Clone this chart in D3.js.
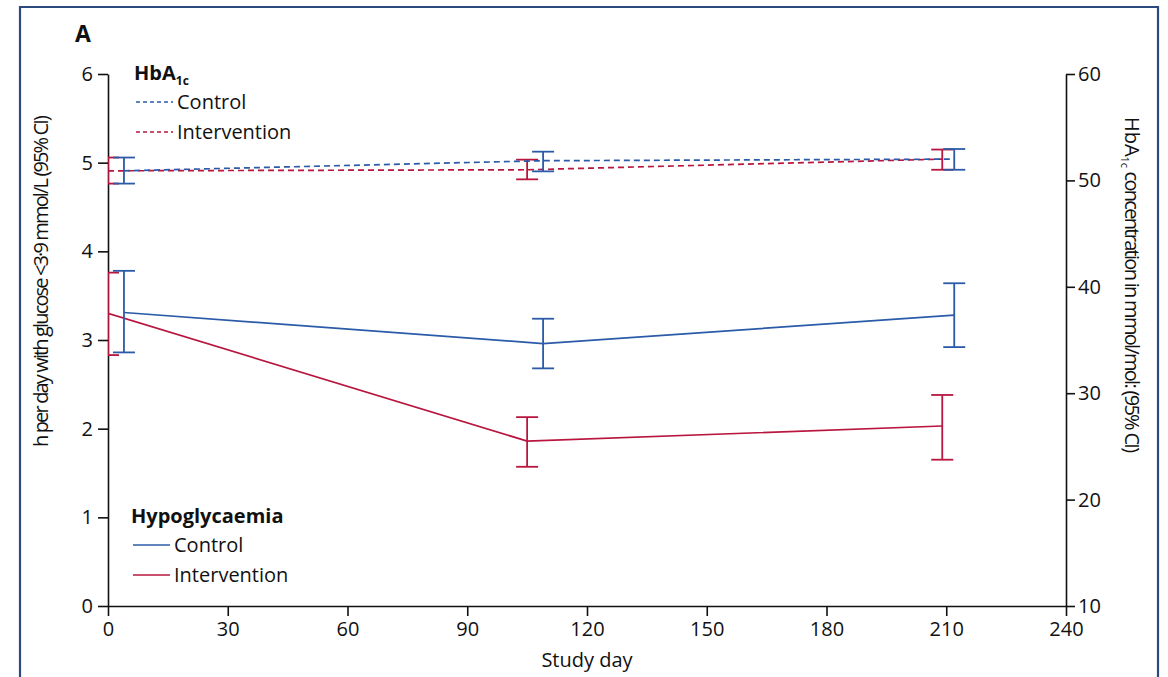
<!DOCTYPE html>
<html>
<head>
<meta charset="utf-8">
<script src="https://cdn.jsdelivr.net/npm/d3@7"></script>
<style>
  body { margin: 0; background: #fff; }
  svg { display: block; font-family: "Open Sans", "Noto Sans", sans-serif; }
  .axis path, .axis line { stroke: #111; stroke-width: 1.6; }
  .axis text { font-size: 20px; fill: #111; font-family: "Open Sans", sans-serif; }
  .lbl { font-size: 20px; fill: #111; }
</style>
</head>
<body>
<svg id="chart"></svg>
<script>
var W = 1168, H = 677;

// study days of each visit
var DAYS_CTRL = [4, 109, 212];
var DAYS_INT = [0, 105, 209];

// hypoglycaemia, h per day < 3.9 mmol/L
var HYPO_CTRL = [3.31, 2.96, 3.28];
var HYPO_CTRL_LO = [2.86, 2.68, 2.92];
var HYPO_CTRL_HI = [3.78, 3.24, 3.64];
var HYPO_INT = [3.30, 1.86, 2.03];
var HYPO_INT_LO = [2.83, 1.57, 1.65];
var HYPO_INT_HI = [3.76, 2.13, 2.38];

// HbA1c, mmol/mol
var HBA_CTRL = [50.9, 51.85, 52.0];
var HBA_CTRL_LO = [49.7, 50.85, 51.0];
var HBA_CTRL_HI = [52.15, 52.7, 52.95];
var HBA_INT = [50.9, 51.0, 52.0];
var HBA_INT_LO = [49.7, 50.1, 51.0];
var HBA_INT_HI = [52.15, 51.95, 52.9];

var X_TICKS = [0, 30, 60, 90, 120, 150, 180, 210, 240];
var LEFT_TICKS = [0, 1, 2, 3, 4, 5, 6];
var RIGHT_TICKS = [10, 20, 30, 40, 50, 60];

var BLUE = "#2b5ba8";
var RED = "#b8163f";

var M = {left: 108, right: 1066, top: 74, bottom: 606};

var svg = d3.select("#chart").attr("width", W).attr("height", H);

var x = d3.scaleLinear().domain([0, 240]).range([M.left, M.right]);
var yL = d3.scaleLinear().domain([0, 6]).range([M.bottom, M.top]);
var yR = d3.scaleLinear().domain([10, 60]).range([M.bottom, M.top]);

// frame
svg.append("path")
    .attr("d", "M20," + (H + 5) + "V7H1158V" + (H + 5))
    .attr("fill", "none").attr("stroke", "#2d4a7f").attr("stroke-width", 2.2);

svg.append("text").attr("x", 75).attr("y", 42)
    .attr("font-size", 23).attr("font-weight", "bold").attr("fill", "#111").text("A");

// axes
svg.append("g").attr("class", "axis")
    .attr("transform", "translate(0," + M.bottom + ")")
    .call(d3.axisBottom(x).tickValues(X_TICKS).tickSize(10).tickPadding(4).tickSizeOuter(0))
    .call(function (g) { g.selectAll("text").attr("dy", "0.78em"); });

svg.append("g").attr("class", "axis")
    .attr("transform", "translate(" + M.left + ",0)")
    .call(d3.axisLeft(yL).tickValues(LEFT_TICKS).tickFormat(d3.format("d"))
        .tickSize(10).tickPadding(5).tickSizeOuter(0));

svg.append("g").attr("class", "axis")
    .attr("transform", "translate(" + M.right + ",0)")
    .call(d3.axisRight(yR).tickValues(RIGHT_TICKS).tickSize(9).tickPadding(3).tickSizeOuter(0));

svg.append("text").attr("class", "lbl")
    .attr("x", x(120)).attr("y", 667).attr("text-anchor", "middle").text("Study day");

svg.append("text").attr("class", "lbl")
    .attr("transform", "translate(48,281) rotate(-90)")
    .attr("text-anchor", "middle").attr("font-size", 18.5)
    .attr("textLength", 332).attr("lengthAdjust", "spacing")
    .text("h per day with glucose <3\u00b79 mmol/L (95% CI)");

var rl = svg.append("text").attr("class", "lbl")
    .attr("transform", "translate(1125,285) rotate(90)")
    .attr("text-anchor", "middle").attr("font-size", 18.5);
rl.append("tspan").text("HbA");
rl.append("tspan").attr("font-size", 11).attr("dy", 4).text("1c");
rl.append("tspan").attr("dy", -4).attr("textLength", 285).attr("lengthAdjust", "spacing")
    .text(" concentration in mmol/mol: (95% CI)");

// plot area clip so caps at day 0 stop at the axis
svg.append("clipPath").attr("id", "clip")
    .append("rect").attr("x", M.left).attr("y", 0).attr("width", M.right - M.left).attr("height", H);
var plot = svg.append("g").attr("clip-path", "url(#clip)");

function series(days, mean, lo, hi, y, color, dash) {
    var pts = days.map(function (d, i) { return {d: d, m: mean[i], lo: lo[i], hi: hi[i]}; });
    var line = d3.line().x(function (p) { return x(p.d); }).y(function (p) { return y(p.m); });
    plot.append("path").datum(pts).attr("d", line)
        .attr("fill", "none").attr("stroke", color).attr("stroke-width", 1.7)
        .attr("stroke-dasharray", dash ? "6,4" : null);
    var g = plot.append("g").attr("stroke", color).attr("stroke-width", 1.8);
    pts.forEach(function (p) {
        var cx = x(p.d);
        g.append("line").attr("x1", cx).attr("x2", cx).attr("y1", y(p.lo)).attr("y2", y(p.hi));
        g.append("line").attr("x1", cx - 11).attr("x2", cx + 11).attr("y1", y(p.lo)).attr("y2", y(p.lo));
        g.append("line").attr("x1", cx - 11).attr("x2", cx + 11).attr("y1", y(p.hi)).attr("y2", y(p.hi));
    });
}

series(DAYS_INT, HYPO_INT, HYPO_INT_LO, HYPO_INT_HI, yL, RED, false);
series(DAYS_CTRL, HYPO_CTRL, HYPO_CTRL_LO, HYPO_CTRL_HI, yL, BLUE, false);
series(DAYS_INT, HBA_INT, HBA_INT_LO, HBA_INT_HI, yR, RED, true);
series(DAYS_CTRL, HBA_CTRL, HBA_CTRL_LO, HBA_CTRL_HI, yR, BLUE, true);

// legends
function legend(x0, y0, title, sub, dash) {
    var t = svg.append("text").attr("x", x0).attr("y", y0)
        .attr("font-size", 20).attr("font-weight", "bold").attr("fill", "#111");
    t.append("tspan").text(title);
    if (sub) t.append("tspan").attr("font-size", 12).attr("dy", 5).text(sub);
    [["Control", BLUE], ["Intervention", RED]].forEach(function (e, i) {
        var yy = y0 + 22 + i * 30;
        svg.append("line").attr("x1", x0 + 2).attr("x2", x0 + 39).attr("y1", yy).attr("y2", yy)
            .attr("stroke", e[1]).attr("stroke-width", 1.7)
            .attr("stroke-dasharray", dash ? "4,3" : null);
        svg.append("text").attr("class", "lbl").attr("x", x0 + 43).attr("y", yy + 7).text(e[0]);
    });
}
legend(134, 80, "HbA", "1c", true);
legend(131, 523, "Hypoglycaemia", null, false);
</script>
</body>
</html>
